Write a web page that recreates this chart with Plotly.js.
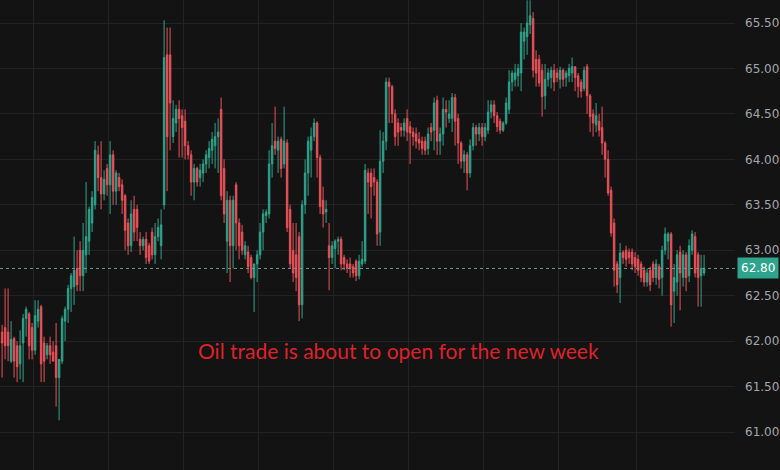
<!DOCTYPE html>
<html>
<head>
<meta charset="utf-8">
<script src="https://cdn.plot.ly/plotly-3.0.1.min.js"></script>
<style>html,body{margin:0;padding:0;background:#131313;}#chart{width:780px;height:470px;}</style>
</head>
<body>
<div id="chart"></div>
<script>
const openP = [62.10,62.15,62.10,61.78,62.03,61.95,61.75,61.98,62.25,62.30,62.15,61.90,62.22,62.38,61.98,61.85,61.95,61.88,61.95,61.60,
61.78,62.22,62.35,62.58,62.60,62.80,63.00,62.72,62.95,63.10,63.30,63.50,64.05,63.80,63.62,63.90,63.72,64.05,63.65,63.80,
63.72,63.60,63.30,63.05,63.45,63.45,63.12,63.05,63.12,63.05,63.20,62.95,63.15,63.05,63.50,65.15,65.15,64.25,64.40,64.55,
64.48,64.42,64.15,64.05,63.75,63.90,63.80,63.85,63.95,64.02,64.10,64.15,64.25,64.55,63.90,63.10,63.55,63.05,63.72,63.30,
63.20,62.95,62.98,62.92,62.70,62.85,62.95,63.20,63.38,63.40,63.95,64.20,64.10,64.22,63.95,64.18,63.45,63.00,62.95,63.15,
62.40,63.50,63.85,64.10,64.25,64.40,64.02,63.55,63.42,63.05,62.92,63.02,63.10,63.12,62.92,62.85,62.85,62.82,62.88,62.72,
62.85,62.88,63.85,63.85,63.80,63.75,63.20,63.98,64.20,64.85,64.80,64.50,64.40,64.35,64.32,64.45,64.36,64.30,64.28,64.22,
64.20,64.20,64.12,64.35,64.32,64.65,64.20,64.28,64.55,64.45,64.45,64.68,64.45,64.18,63.98,64.05,63.85,64.15,64.35,64.28,
64.35,64.25,64.32,64.52,64.60,64.48,64.42,64.32,64.40,64.55,64.85,64.88,64.92,64.95,65.30,65.35,65.48,65.55,65.10,65.10,
64.98,64.70,64.88,64.90,64.98,64.95,64.88,64.98,64.90,64.92,64.95,65.02,64.92,64.85,64.78,65.02,64.70,64.50,64.38,64.42,
64.35,64.18,64.00,63.66,63.30,62.85,62.70,62.98,63.00,62.98,62.98,62.92,62.90,62.85,62.78,62.65,62.78,62.85,62.70,62.82,
62.70,63.00,63.10,63.18,62.55,62.65,62.98,62.70,62.95,62.72,63.00,63.15,62.95,62.72,62.75];
const highP = [62.18,62.58,62.58,62.22,62.05,62.00,62.12,62.30,62.38,62.32,62.20,62.45,62.45,62.40,62.05,61.98,62.05,62.00,62.20,61.80,
62.28,62.38,62.62,62.75,63.15,63.00,63.10,63.30,63.75,63.48,63.65,64.20,64.15,64.20,63.88,63.95,64.20,64.10,63.88,63.85,
63.78,63.62,63.35,63.55,63.60,63.50,63.20,63.15,63.20,63.08,63.25,63.30,63.35,63.45,65.53,65.45,65.45,64.65,64.60,64.65,
64.55,64.55,64.20,64.10,63.95,63.92,63.95,64.00,64.10,64.20,64.30,64.40,64.45,64.68,64.00,63.65,63.60,63.60,63.75,63.35,
63.28,63.10,63.05,62.95,62.85,63.00,63.30,63.45,63.45,64.10,64.40,64.58,64.25,64.25,64.58,64.22,63.50,63.30,63.30,63.20,
63.55,64.00,64.25,64.35,64.45,64.42,64.05,63.70,63.55,63.30,63.10,63.12,63.15,63.15,62.95,62.90,62.92,62.85,62.90,62.95,
63.10,63.95,63.90,63.90,63.90,63.78,64.32,64.30,64.90,64.90,64.82,64.55,64.45,64.40,64.45,64.55,64.42,64.35,64.35,64.30,
64.25,64.25,64.35,64.40,64.68,64.70,64.35,64.68,64.65,64.65,64.73,64.72,64.50,64.20,64.10,64.08,64.22,64.40,64.38,64.40,
64.40,64.40,64.65,64.65,64.65,64.52,64.45,64.42,64.68,64.98,64.98,65.05,65.05,65.50,65.45,65.75,65.75,65.62,65.20,65.15,
65.05,65.05,65.00,65.02,65.05,65.00,65.02,65.00,64.98,65.05,65.12,65.02,64.95,64.88,65.02,65.05,64.72,64.55,64.62,64.50,
64.58,64.20,64.10,63.70,63.35,62.88,63.08,63.00,63.05,63.02,63.02,62.98,62.95,62.88,62.82,62.80,62.82,62.88,62.90,62.85,
63.05,63.25,63.20,63.20,62.85,63.00,63.05,63.00,62.98,63.12,63.22,63.20,62.98,62.95,62.95];
const lowP = [61.60,61.80,61.78,61.76,61.60,61.55,61.58,61.55,62.05,61.80,61.80,61.85,62.15,61.55,61.55,61.80,61.75,61.78,61.28,61.13,
61.75,62.00,62.20,62.32,62.40,62.55,62.55,62.55,62.75,62.95,63.20,63.45,63.65,63.45,63.55,63.60,63.40,63.50,63.50,63.65,
63.40,63.00,62.95,62.98,63.10,63.10,62.95,63.00,62.85,62.85,62.90,62.85,63.10,62.90,63.45,63.65,64.10,64.18,64.30,64.02,
64.02,64.00,64.00,63.60,63.55,63.70,63.70,63.75,63.85,63.90,63.95,63.90,63.85,63.55,63.30,62.75,62.65,62.80,63.00,62.90,
62.95,62.90,62.75,62.68,62.32,62.65,62.90,63.00,63.30,63.35,63.80,64.05,63.85,63.80,63.90,63.20,62.80,62.65,62.55,62.22,
62.25,63.40,63.60,63.80,64.20,63.80,63.40,63.25,63.30,62.56,62.85,62.80,62.95,62.78,62.78,62.75,62.70,62.70,62.66,62.68,
62.82,62.85,63.40,63.35,63.60,63.05,63.05,63.85,64.10,64.40,64.40,64.15,64.15,64.25,64.25,64.20,63.95,64.15,64.12,64.10,
64.05,64.05,64.05,64.20,64.10,64.05,64.05,64.15,64.35,64.40,64.30,64.15,63.95,63.90,63.85,63.66,63.80,64.10,64.15,64.20,
64.15,64.20,64.28,64.45,64.40,64.30,64.28,64.30,64.38,64.50,64.75,64.80,64.80,64.75,65.10,65.15,65.38,64.90,64.80,64.80,
64.47,64.55,64.80,64.78,64.75,64.85,64.78,64.80,64.80,64.85,64.85,64.75,64.68,64.68,64.75,64.50,64.30,64.25,64.30,64.25,
64.05,63.80,63.60,63.15,62.60,62.53,62.42,62.85,62.82,62.85,62.78,62.75,62.72,62.65,62.60,62.60,62.55,62.65,62.62,62.58,
62.50,62.95,62.90,62.16,62.20,62.50,62.34,62.60,62.55,62.65,62.95,62.70,62.38,62.38,62.72];
const closeP = [61.98,61.95,61.95,62.02,61.78,61.72,61.95,62.25,62.35,61.95,61.90,62.28,62.35,61.75,61.78,61.95,61.85,61.78,61.60,61.80,
62.25,62.35,62.58,62.72,62.78,62.62,62.72,63.00,63.15,63.45,63.58,64.10,63.80,63.62,63.78,63.72,64.05,63.65,63.85,63.70,
63.55,63.22,63.05,63.40,63.20,63.25,63.05,63.12,62.92,62.88,62.95,63.15,63.25,63.28,65.12,64.25,64.62,64.45,64.55,64.45,
64.35,64.15,64.05,63.75,63.90,63.75,63.88,63.95,64.05,64.12,64.22,64.25,64.30,63.60,63.40,63.55,63.05,63.55,63.30,63.05,
63.00,63.05,62.82,62.70,62.85,62.95,63.20,63.40,63.42,63.95,64.15,64.12,64.20,63.90,64.20,63.25,62.85,62.75,62.70,62.40,
63.50,63.85,64.20,64.25,64.40,64.02,63.48,63.40,63.45,62.92,63.05,63.10,63.12,62.85,62.85,62.80,62.80,62.75,62.72,62.88,
62.90,63.88,63.75,63.70,63.75,63.18,63.98,64.20,64.85,64.80,64.50,64.25,64.30,64.32,64.40,64.30,64.29,64.25,64.20,64.18,
64.12,64.10,64.28,64.30,64.62,64.20,64.28,64.55,64.52,64.50,64.68,64.42,64.18,63.98,64.05,63.85,64.15,64.35,64.28,64.35,
64.25,64.35,64.52,64.60,64.48,64.36,64.32,64.40,64.62,64.85,64.95,64.95,65.00,65.40,65.40,65.50,65.58,64.98,64.95,64.84,
64.69,64.88,64.95,64.98,64.85,64.90,64.98,64.88,64.95,65.00,65.02,64.90,64.80,64.75,64.98,64.70,64.47,64.40,64.48,64.32,
64.18,64.00,63.63,63.19,62.78,62.62,62.97,62.92,62.90,62.92,62.85,62.82,62.78,62.70,62.65,62.75,62.62,62.70,62.85,62.68,
63.00,63.18,63.18,62.40,62.70,62.95,62.75,62.95,62.70,63.05,63.18,62.75,62.70,62.80,62.80];

const barIndex = openP.map((_, i) => i);
const priceTicks = [61.0, 61.5, 62.0, 62.5, 63.0, 63.5, 64.0, 64.5, 65.0, 65.5];
const lastPrice = closeP[closeP.length - 1];
const note = 'Oil trade is about to open for the new week';

const trace = {
  type: 'candlestick',
  x: barIndex, open: openP, high: highP, low: lowP, close: closeP,
  increasing: {line: {color: '#2fa48c', width: 1}, fillcolor: '#2fa48c'},
  decreasing: {line: {color: '#e9525a', width: 1}, fillcolor: '#e9525a'},
  whiskerwidth: 0,
  hoverinfo: 'skip',
  showlegend: false
};

const layout = {
  width: 780, height: 470,
  margin: {l: 0, r: 45, t: 0, b: 0, pad: 0},
  paper_bgcolor: '#131313', plot_bgcolor: '#131313',
  showlegend: false,
  xaxis: {
    range: [-0.7, 244.3], rangeslider: {visible: false},
    showticklabels: false, ticks: '', zeroline: false, showline: false,
    tickvals: [10.6, 35.6, 60.6, 85.6, 110.6, 135.6, 160.6, 185.6, 211.6],
    showgrid: true, gridcolor: '#232323', gridwidth: 1
  },
  yaxis: {
    side: 'right', range: [60.583, 65.753],
    tickvals: priceTicks, tickformat: '.2f',
    ticks: '', ticklabelstandoff: 9,
    showgrid: true, gridcolor: '#232323', gridwidth: 1,
    zeroline: false, showline: false,
    tickfont: {family: 'DejaVu Sans', size: 12, color: '#a3a6ad'}
  },
  shapes: [{
    type: 'line', xref: 'paper', x0: 0, x1: 1, yref: 'y', y0: lastPrice, y1: lastPrice,
    line: {color: '#6f9a90', width: 1, dash: 'dot'}
  }],
  annotations: [
    {
      xref: 'paper', x: 1, xanchor: 'left', xshift: 2, yref: 'y', y: lastPrice, yanchor: 'middle',
      text: lastPrice.toFixed(2), showarrow: false,
      bgcolor: '#2fa48c', borderpad: 3,
      font: {family: 'DejaVu Sans', size: 12, color: '#ffffff'}
    },
    {
      xref: 'paper', x: 0.5415, xanchor: 'center', yref: 'y', y: 61.90, yanchor: 'middle',
      text: note, showarrow: false,
      font: {family: 'Lato', size: 21, color: '#de2229'}
    }
  ]
};

Plotly.newPlot('chart', [trace], layout, {staticPlot: true, displayModeBar: false});
</script>
</body>
</html>
